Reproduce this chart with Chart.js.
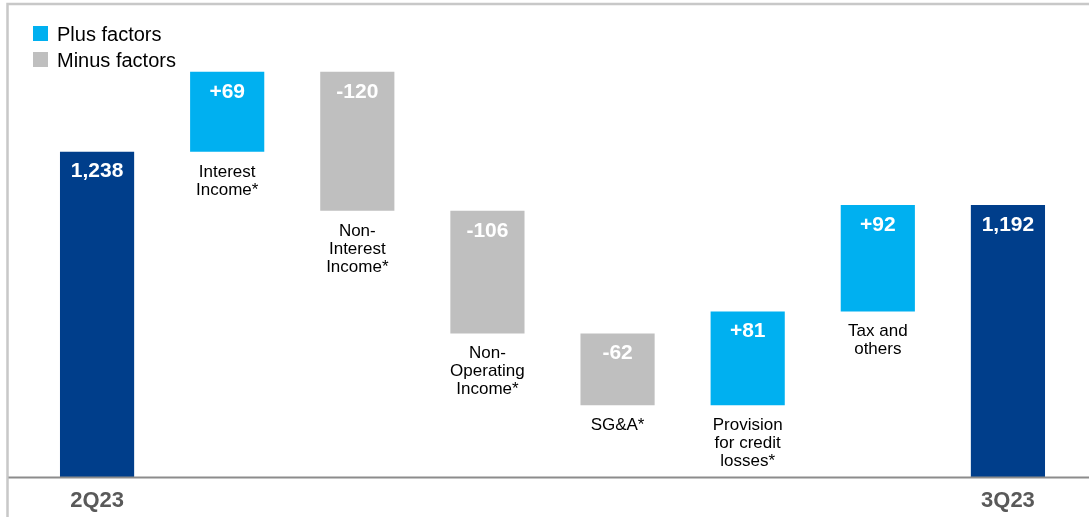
<!DOCTYPE html>
<html>
<head>
<meta charset="utf-8">
<script src="https://cdn.jsdelivr.net/npm/chart.js@4.4.0/dist/chart.umd.min.js"></script>
<style>
  html, body { margin: 0; padding: 0; background: #fff; }
  #wrap { width: 1089px; height: 517px; position: relative; }
</style>
</head>
<body>
<div id="wrap"><canvas id="myChart"></canvas></div>
<script>
const periods = ['2Q23', '3Q23']
const openingValue = 1238
const closingValue = 1192
const factorNames = [
    ['Interest', 'Income*'],
    ['Non-', 'Interest', 'Income*'],
    ['Non-', 'Operating', 'Income*'],
    ['SG&A*'],
    ['Provision', 'for credit', 'losses*'],
    ['Tax and', 'others']
]
const factorValues = [69, -120, -106, -62, 81, 92]
const legendNames = ['Plus factors', 'Minus factors']

const NAVY = '#003e8b'
const CYAN = '#00b0f0'
const GREY = '#bfbfbf'
const FONT = 'Arial, "Liberation Sans", sans-serif'

// running total -> floating [from, to] for every factor bar
let running = openingValue
const steps = factorValues.map(v => {
    const from = running
    running += v
    return [from, running]
})

const labels = [periods[0], ...factorNames.map(n => n.join(' ')), periods[1]]
const last = labels.length - 1

const totals = labels.map((_, i) => i === 0 ? openingValue : i === last ? closingValue : null)
const plusBars = labels.map((_, i) => (i > 0 && i < last && factorValues[i - 1] > 0) ? steps[i - 1] : null)
const minusBars = labels.map((_, i) => (i > 0 && i < last && factorValues[i - 1] < 0) ? steps[i - 1] : null)

function valueText(i) {
    if (i === 0) return openingValue.toLocaleString('en-US')
    if (i === last) return closingValue.toLocaleString('en-US')
    const v = factorValues[i - 1]
    return (v > 0 ? '+' : '') + v
}

// frame, axis line, value labels, factor names and legend
const waterfallDecor = {
    id: 'waterfallDecor',
    afterDatasetsDraw(chart) {
        const ctx = chart.ctx
        const area = chart.chartArea
        ctx.save()

        chart.data.datasets.forEach((ds, d) => {
            const meta = chart.getDatasetMeta(d)
            meta.data.forEach((bar, i) => {
                if (ds.data[i] === null) return
                const top = Math.min(bar.y, bar.base)
                const bottom = Math.min(Math.max(bar.y, bar.base), area.bottom)

                ctx.fillStyle = '#fff'
                ctx.font = 'bold 21px ' + FONT
                ctx.textAlign = 'center'
                ctx.textBaseline = 'middle'
                ctx.fillText(valueText(i), bar.x, top + 20)

                if (i > 0 && i < last) {
                    ctx.fillStyle = '#000'
                    ctx.font = '17px ' + FONT
                    ctx.textBaseline = 'alphabetic'
                    factorNames[i - 1].forEach((line, k) => {
                        ctx.fillText(line, bar.x, bottom + 25 + k * 18)
                    })
                }
            })
        })

        // outer frame
        ctx.strokeStyle = '#c8c8c8'
        ctx.lineWidth = 2.5
        ctx.beginPath()
        ctx.moveTo(7.5, chart.height)
        ctx.lineTo(7.5, 4)
        ctx.lineTo(chart.width, 4)
        ctx.stroke()

        // base line
        ctx.strokeStyle = '#8c8c8c'
        ctx.lineWidth = 2
        ctx.beginPath()
        ctx.moveTo(8.5, area.bottom + 0.5)
        ctx.lineTo(chart.width, area.bottom + 0.5)
        ctx.stroke()

        // legend
        const colors = [CYAN, GREY]
        ctx.font = '20px ' + FONT
        ctx.textAlign = 'left'
        ctx.textBaseline = 'alphabetic'
        legendNames.forEach((name, k) => {
            const y = 26 + k * 26
            ctx.fillStyle = colors[k]
            ctx.fillRect(33, y, 15, 15)
            ctx.fillStyle = '#000'
            ctx.fillText(name, 57, y + 15)
        })

        ctx.restore()
    }
}

const config = {
    type: 'bar',
    data: {
        labels,
        datasets: [
            { label: 'Total', data: totals, backgroundColor: NAVY },
            { label: legendNames[0], data: plusBars, backgroundColor: CYAN },
            { label: legendNames[1], data: minusBars, backgroundColor: GREY }
        ]
    },
    options: {
        responsive: true,
        maintainAspectRatio: false,
        animation: false,
        grouped: false,
        categoryPercentage: 1,
        barPercentage: 0.57,
        layout: {
            padding: { left: 32, right: 16, top: 0, bottom: 0 }
        },
        plugins: {
            legend: { display: false },
            tooltip: { enabled: false }
        },
        scales: {
            x: {
                grid: { display: false },
                border: { display: false },
                ticks: {
                    autoSkip: false,
                    maxRotation: 0,
                    padding: 3,
                    color: '#595959',
                    font: { family: FONT, size: 22, weight: 'bold' },
                    callback: (value, index) => index === 0 ? periods[0] : index === last ? periods[1] : ''
                },
                afterFit: scale => { scale.height = 40 }
            },
            y: {
                display: false,
                min: 957,
                max: 1369
            }
        }
    },
    plugins: [waterfallDecor]
}

const myChart = new Chart(document.getElementById('myChart'), config)
</script>
</body>
</html>
